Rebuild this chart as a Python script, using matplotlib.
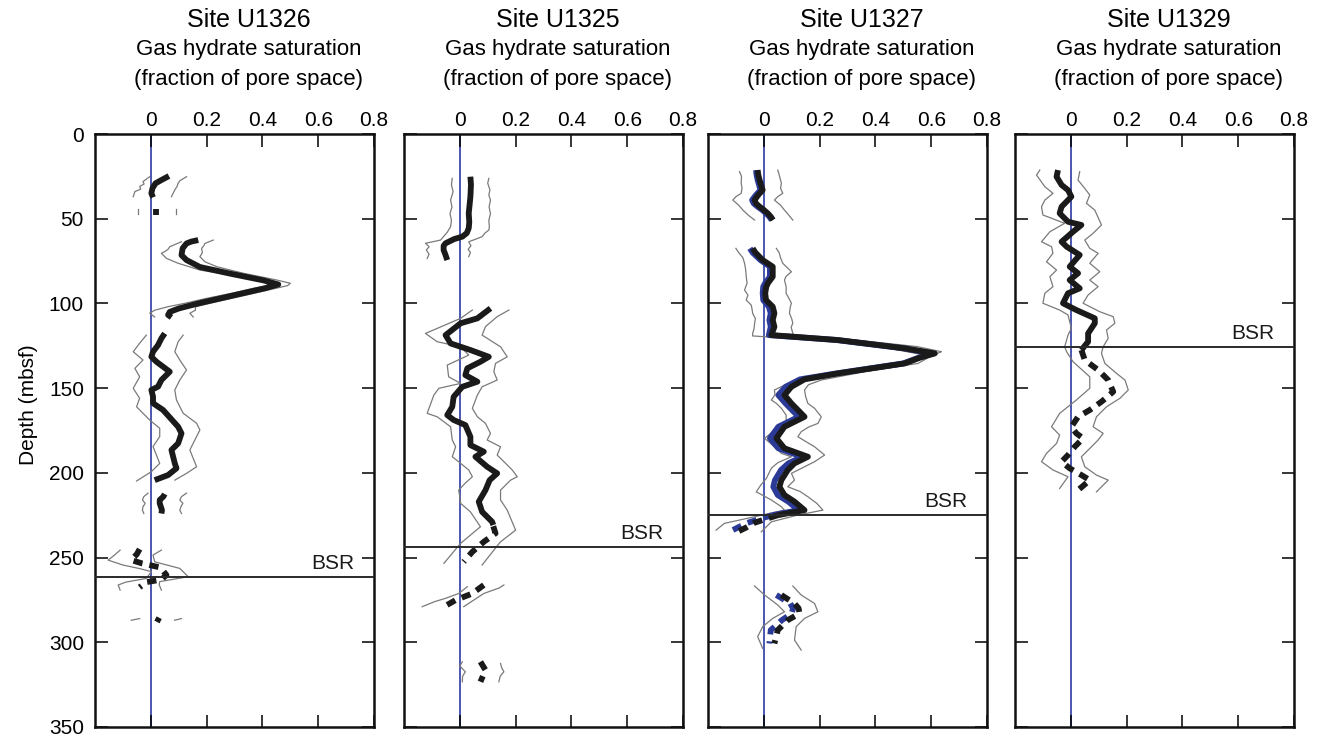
import matplotlib
matplotlib.use("Agg")
import matplotlib.pyplot as plt

plt.rcParams['font.family'] = ['Liberation Sans', 'DejaVu Sans']

sites = ["Site U1326", "Site U1325", "Site U1327", "Site U1329"]
bsr_depths = [261.5, 243.8, 225.0, 126.0]
x_ticks = [0, 0.2, 0.4, 0.6, 0.8]
x_tick_labels = ["0", "0.2", "0.4", "0.6", "0.8"]
y_ticks = [0, 50, 100, 150, 200, 250, 300, 350]

# ---------------- Site U1326 (depth, saturation) ----------------
u1326_mean_solid = [
    [(24.8, 0.065), (27, 0.04), (29.1, 0.017), (32, 0.006), (35, 0.002), (37.4, 0.008)],
    [(44.5, 0.02), (48, 0.02)],
    [(62.6, 0.17), (63.5, 0.145), (64.6, 0.128), (67.5, 0.114), (71.5, 0.11), (74.4, 0.128),
     (78.5, 0.176), (82.4, 0.284), (86.4, 0.404), (88.8, 0.457), (91, 0.41), (94, 0.33),
     (97, 0.25), (100, 0.17), (103, 0.1), (105, 0.068), (106.8, 0.062), (108.2, 0.074)],
    [(117.7, 0.05), (120.6, 0.038), (124.6, 0.026), (128.5, 0.008), (131.5, 0.002), (134.4, 0.02),
     (140.3, 0.068), (145.2, 0.038), (149.1, 0.026), (151.1, 0.002), (155, 0.008), (158.9, 0.008),
     (162.9, 0.044), (172.8, 0.098), (176.7, 0.11), (182.6, 0.098), (186.5, 0.074), (194.4, 0.086),
     (197.3, 0.092), (201.3, 0.062), (204.3, 0.014)],
    [(212.5, 0.05), (214, 0.045), (216, 0.032), (218, 0.032), (220, 0.036), (222, 0.04), (224, 0.038)],
]
u1326_mean_dash = [
    [(245, -0.04), (248, -0.05), (251.5, -0.07), (253.5, -0.03), (255.7, 0.03), (258, 0.045),
     (260.3, 0.056), (263, 0.038), (264.5, -0.016), (267.5, -0.04)],
    [(285.5, 0.03), (288, 0.022)],
]
u1326_low = [
    [(25.2, -0.004), (28.1, -0.028), (29.5, -0.024), (31, -0.04), (32.5, -0.036), (34, -0.057), (37, -0.063)],
    [(44.5, -0.046), (47.5, -0.046)],
    [(63.6, 0.11), (66.5, 0.068), (68, 0.062), (69.4, 0.05), (70.4, 0.038), (73.4, 0.056), (76.3, 0.098),
     (80.3, 0.176), (84.2, 0.32), (87.2, 0.428), (89.5, 0.42), (91, 0.37), (94, 0.29), (97, 0.2),
     (100, 0.12), (102, 0.06), (104, 0.014), (105.8, -0.004), (108, 0.014)],
    [(118.7, -0.016), (123.5, -0.04), (128.5, -0.063), (133.4, -0.028), (138.3, -0.057), (143.3, -0.04),
     (150.1, -0.063), (156, -0.04), (161, -0.051), (168.8, -0.004), (173.7, 0.032), (178.6, 0.032),
     (184.5, 0.008), (194.4, 0.032), (199.3, 0.002), (204.8, -0.051)],
    [(212, -0.01), (214, -0.025), (216, -0.03), (218, -0.02), (220, -0.028), (222, -0.03), (224, -0.025)],
    [(245.6, -0.11), (248.5, -0.13), (251.5, -0.153), (254.4, -0.1), (256.5, -0.04), (258.3, 0.002),
     (262.3, -0.016), (264.5, -0.09), (266.2, -0.117), (269.2, -0.11)],
    [(287, -0.07), (286, -0.04)],
]
u1326_high = [
    [(25.2, 0.128), (27.5, 0.105), (29, 0.098), (31, 0.094), (33, 0.086), (35, 0.08), (37, 0.074)],
    [(44.5, 0.09), (47.5, 0.09)],
    [(62.6, 0.224), (64.6, 0.194), (66, 0.19), (67.5, 0.182), (70, 0.185), (72.4, 0.176), (75.4, 0.194),
     (78.3, 0.236), (82.2, 0.332), (86.2, 0.452), (88.1, 0.5), (89.5, 0.49), (91, 0.45), (94, 0.37),
     (97, 0.29), (100, 0.21), (102, 0.16), (104, 0.16), (105.8, 0.14), (108, 0.152)],
    [(118.7, 0.116), (122.6, 0.098), (128.5, 0.086), (133.4, 0.104), (139.3, 0.128), (145.2, 0.104),
     (151.1, 0.086), (157, 0.092), (164.8, 0.116), (170.7, 0.164), (174.7, 0.176), (178.6, 0.164),
     (186.5, 0.14), (196.4, 0.164), (200.3, 0.128), (204.3, 0.086)],
    [(212, 0.128), (214, 0.11), (216, 0.104), (218, 0.115), (220, 0.108), (222, 0.104), (224, 0.11)],
    [(245.6, 0.038), (248.5, 0.008), (252.5, 0.014), (256.4, 0.104), (261.3, 0.134), (264.2, 0.032),
     (266, 0.03), (269.2, 0.038)],
    [(287, 0.085), (286, 0.11)],
]

# ---------------- Site U1325 ----------------
u1325_mean_solid = [
    [(25.2, 0.038), (30, 0.04), (37, 0.038), (42, 0.035), (46.8, 0.032), (52, 0.034), (55.6, 0.032),
     (58.5, 0.025), (60.6, 0.009), (62, -0.02), (64.5, -0.051), (66, -0.058), (68.5, -0.058),
     (71, -0.052), (74.4, -0.045)],
    [(102.9, 0.11), (108.8, 0.063), (111.7, 0.003), (118.7, -0.051), (123.6, -0.033), (127.5, 0.038),
     (131.5, 0.104), (134.4, 0.074), (138.3, 0.027), (142.3, 0.02), (146.2, 0.063), (149.2, 0.009),
     (155.1, -0.022), (161, -0.027), (165.9, -0.045), (168.8, -0.022), (171.8, 0.02), (178.7, 0.038),
     (183.6, 0.038), (187.5, 0.086), (190.5, 0.056), (196.4, 0.098), (200.3, 0.134), (204.3, 0.107),
     (210.2, 0.092), (217, 0.068), (223, 0.08), (228.9, 0.116), (230.8, 0.12)],
]
u1325_mean_dash = [
    [(231.5, 0.12), (235.7, 0.128), (240.7, 0.086), (246.6, 0.045), (252.5, 0.014)],
    [(266.2, 0.086), (271.2, 0.045), (275.1, -0.015), (279, -0.057)],
    [(311.5, 0.074), (316.4, 0.092), (323.3, 0.074)],
]
u1325_low = [
    [(26.2, -0.027), (30, -0.03), (34, -0.024), (39, -0.033), (43, -0.028), (47, -0.035), (51, -0.03),
     (54.7, -0.033), (58, -0.045), (62.6, -0.069), (64.5, -0.123), (66.5, -0.11), (68.5, -0.12),
     (71, -0.11), (73.4, -0.117)],
    [(103.9, 0.045), (108.8, 0.003), (117.7, -0.123), (122.6, -0.081), (125.6, 0.003), (130.5, 0.032),
     (136.4, -0.045), (143.3, -0.04), (147.2, 0.003), (150.1, -0.075), (154.1, -0.093), (164.9, -0.117),
     (166.9, -0.081), (172.8, -0.033), (180.6, -0.027), (184.6, -0.015), (190.5, -0.027), (194.4, 0.003),
     (198.3, 0.032), (202.3, 0.045), (206, 0.02), (210.2, -0.004), (214, 0.0), (218, 0.003),
     (223, 0.038), (231.8, 0.074), (241.6, 0.003), (253.4, -0.057)],
    [(267.2, 0.027), (271.2, -0.004), (274, -0.05), (276, -0.09), (279, -0.135)],
    [(311.5, 0.009), (314, 0.0), (317.4, 0.02), (320, 0.01), (323.3, 0.009)],
]
u1325_high = [
    [(26.2, 0.104), (29, 0.1), (33, 0.108), (36, 0.104), (39, 0.11), (43, 0.105), (47, 0.11), (51, 0.104),
     (54.7, 0.106), (56.7, 0.104), (58.5, 0.09), (60.6, 0.08), (62.5, 0.05), (63.6, 0.032), (66, 0.04),
     (68, 0.03), (70, 0.038), (72.4, 0.032)],
    [(103.9, 0.176), (107.8, 0.134), (113.7, 0.092), (118.7, 0.08), (125.6, 0.146), (131.5, 0.17),
     (135.4, 0.128), (140.3, 0.122), (145.2, 0.134), (149.2, 0.08), (154.1, 0.063), (161.9, 0.045),
     (166.9, 0.063), (170.8, 0.092), (176.7, 0.11), (180.6, 0.098), (184.6, 0.146), (189.5, 0.134),
     (193.4, 0.158), (198.3, 0.188), (202.3, 0.206), (204.3, 0.182), (210.2, 0.146), (216, 0.146),
     (222, 0.17), (233.8, 0.2), (240.7, 0.146), (245.6, 0.122), (254.4, 0.08)],
    [(266.2, 0.158), (268, 0.14), (271.2, 0.086), (274, 0.06), (279, 0.014)],
    [(312.5, 0.146), (315, 0.15), (317.4, 0.158), (320, 0.145), (323.3, 0.14)],
]

# ---------------- Site U1327 ----------------
u1327_mean_solid = [
    [(21.3, -0.022), (24, -0.02), (27.2, -0.015), (30, -0.01), (33.1, -0.004), (36, -0.02), (39, -0.033),
     (41, -0.028), (42.9, -0.015), (44.8, 0.0), (46.8, 0.014), (48.8, 0.025), (50.8, 0.033)],
    [(67.5, -0.04), (70, -0.03), (74.4, -0.004), (78.3, 0.032), (84.2, 0.032), (88, 0.015), (90.1, 0.009),
     (94, 0.005), (98, 0.008), (101.9, 0.032), (105.8, 0.038), (109.8, 0.032), (113.8, 0.038),
     (118.7, 0.027), (121.6, 0.266), (126.5, 0.505), (129.5, 0.613), (132, 0.56), (135.4, 0.505),
     (141.3, 0.266), (144.8, 0.146), (149.2, 0.099), (154.1, 0.074), (159, 0.099), (166.9, 0.146),
     (172.8, 0.074), (179.6, 0.045), (185.5, 0.074), (190.5, 0.158), (194.4, 0.11), (198.3, 0.086),
     (204.3, 0.063), (208.2, 0.056), (213.1, 0.074), (217, 0.11), (222, 0.146), (225, 0.05)],
]
u1327_mean_dash = [
    [(225, 0.05), (227.5, 0.002), (229.5, -0.034), (232, -0.06), (234.8, -0.094)],
    [(272.1, 0.063), (277.1, 0.11), (280, 0.125), (283, 0.128), (286.9, 0.086), (292.8, 0.05), (300.7, 0.038)],
]
u1327_blue_solid = [
    [(21.3, -0.028), (24, -0.026), (27.2, -0.022), (30, -0.017), (33.1, -0.012), (36, -0.028), (39, -0.042),
     (41, -0.036), (42.9, -0.022), (44.8, -0.006), (46.8, 0.008), (48.8, 0.02), (50.8, 0.028)],
    [(67.5, -0.05), (70, -0.04), (74.4, -0.012), (78.3, 0.022), (84.2, 0.022), (88, 0.005), (90.1, -0.002),
     (94, -0.004), (98, -0.002), (101.9, 0.018), (105.8, 0.025), (109.8, 0.02), (113.8, 0.025),
     (118.7, 0.018), (121.6, 0.26), (126.5, 0.5), (129.5, 0.605), (132, 0.555), (135.4, 0.5),
     (141.3, 0.26), (144.8, 0.13), (149.2, 0.078), (154.1, 0.052), (159, 0.078), (166.9, 0.125),
     (172.8, 0.052), (179.6, 0.022), (185.5, 0.052), (190.5, 0.138), (194.4, 0.088), (198.3, 0.062),
     (204.3, 0.04), (208.2, 0.034), (213.1, 0.05), (217, 0.088), (222, 0.125), (225, 0.03)],
]
u1327_blue_dash = [
    [(225, 0.03), (227.5, -0.02), (229.5, -0.058), (232, -0.09), (234.8, -0.123)],
    [(272.1, 0.045), (277.1, 0.095), (280, 0.105), (283, 0.1), (286.9, 0.065), (292.8, 0.025), (300.7, 0.02)],
]
u1327_low = [
    [(22.2, -0.087), (25, -0.08), (29.1, -0.081), (32, -0.078), (35, -0.081), (37, -0.1), (39, -0.111),
     (42, -0.09), (44.9, -0.075), (48, -0.055), (50.8, -0.033)],
    [(67.5, -0.1), (70, -0.09), (73, -0.075), (76.3, -0.069), (80, -0.065), (84.2, -0.063), (88, -0.06),
     (92.1, -0.069), (95, -0.057), (98, -0.063), (101, -0.045), (103.5, -0.042), (105.8, -0.04),
     (109, -0.03), (111.7, -0.033), (115, -0.035), (117.7, -0.04), (119.2, -0.04), (121.6, 0.2),
     (126.5, 0.45), (130.5, 0.577), (133, 0.52), (136.4, 0.458), (141.3, 0.25), (144.8, 0.13),
     (147, 0.09), (151.1, 0.038), (154, 0.04), (157, 0.027), (159, 0.045), (161.9, 0.063), (165.9, 0.08),
     (169, 0.08), (172.8, 0.074), (176, 0.03), (179.6, 0.003), (184.6, 0.038), (188.5, 0.063),
     (190.5, 0.099), (194, 0.05), (197.3, 0.027), (203.3, 0.009), (207, -0.01), (211.2, -0.027),
     (216, 0.027), (220, 0.063), (222, 0.074), (225.9, -0.033), (229.8, -0.141), (233.8, -0.171)],
    [(266.8, -0.033), (272.1, 0.003), (278, 0.05), (282, 0.074), (285.9, 0.032), (290.8, -0.004),
     (296.7, -0.022), (303.6, -0.004)],
]
u1327_high = [
    [(21.3, 0.05), (24, 0.055), (29.1, 0.063), (32, 0.06), (35, 0.068), (37, 0.05), (39, 0.038), (42, 0.06),
     (44.9, 0.074), (48, 0.09), (50.8, 0.104)],
    [(67.5, 0.045), (70, 0.055), (73, 0.06), (76.3, 0.068), (81.3, 0.099), (84, 0.08), (86.2, 0.074),
     (90, 0.08), (94, 0.08), (97, 0.09), (99.9, 0.099), (102, 0.095), (105.8, 0.092), (109, 0.1),
     (111.7, 0.104), (114, 0.098), (117.7, 0.104), (119, 0.11), (121.6, 0.33), (125.5, 0.55),
     (128.5, 0.637), (131, 0.6), (135.4, 0.553), (140.3, 0.362), (145.2, 0.206), (148, 0.16),
     (151.1, 0.146), (155, 0.15), (159, 0.158), (161.9, 0.182), (166.9, 0.206), (170.8, 0.194),
     (173, 0.16), (175.7, 0.134), (178.7, 0.122), (184.6, 0.182), (189.5, 0.218), (193.4, 0.182),
     (196.4, 0.146), (200.3, 0.099), (204.3, 0.11), (208.2, 0.086), (211, 0.13), (214.1, 0.158),
     (218, 0.19), (222, 0.212), (224.9, 0.122), (228.9, 0.027), (234.8, -0.009)],
    [(266.8, 0.104), (272.1, 0.134), (277.1, 0.182), (282, 0.194), (285.9, 0.146), (290.8, 0.116),
     (298.7, 0.11), (304.6, 0.134)],
]

# ---------------- Site U1329 ----------------
u1329_mean_solid = [
    [(21.3, -0.046), (25.2, -0.051), (30.1, -0.033), (33.1, -0.01), (37, 0.002), (42.9, -0.033),
     (46.8, -0.04), (51.8, -0.01), (53.7, 0.038), (57.7, 0.008), (63.6, -0.033), (66.5, -0.015),
     (71.4, 0.032), (78.3, -0.004), (82.2, 0.026), (86.2, -0.004), (91.1, 0.032), (94, -0.01),
     (99.9, -0.028), (103.9, 0.02), (108.8, 0.086), (111.7, 0.086), (117.7, 0.062), (122.6, 0.062),
     (127.5, 0.038)],
]
u1329_mean_dash = [
    [(127.5, 0.038), (133.4, 0.05), (139.3, 0.098), (145.2, 0.134), (152.1, 0.152), (158, 0.11),
     (162.9, 0.068), (166.9, 0.026), (172.8, 0.002), (176.7, 0.02), (179.6, 0.044), (184.6, 0.014),
     (189.5, -0.01), (193.4, -0.033), (197.3, -0.004), (201.3, 0.038), (204.3, 0.068), (210.2, 0.026)],
]
u1329_low = [
    [(21.3, -0.111), (24.2, -0.123), (31.1, -0.093), (35, -0.064), (39, -0.093), (42.9, -0.105),
     (47.8, -0.1), (52.7, -0.022), (57.7, -0.075), (63.6, -0.105), (66.5, -0.069), (70.4, -0.064),
     (75.4, -0.087), (80.3, -0.051), (84.2, -0.075), (90.1, -0.064), (94, -0.093), (99.9, -0.1),
     (103.9, -0.04), (106.8, -0.01), (114.7, 0.002), (118.7, -0.01), (125.6, -0.022), (128.5, -0.015),
     (134.4, 0.008), (143.3, 0.068), (150.1, 0.068), (157, 0.02), (164.9, -0.04), (172.8, -0.069),
     (177.7, -0.04), (182.6, -0.051), (188.5, -0.087), (193.4, -0.105), (198.3, -0.064), (202.3, -0.01),
     (209.2, -0.04)],
]
u1329_high = [
    [(22.2, 0.032), (27.2, 0.026), (32.1, 0.05), (36, 0.068), (40.9, 0.056), (44.9, 0.086), (53.7, 0.11),
     (58.6, 0.08), (62.6, 0.05), (67.5, 0.068), (70.4, 0.098), (76.3, 0.068), (81.3, 0.104), (86.2, 0.068),
     (90.1, 0.098), (95, 0.062), (99.9, 0.044), (104.9, 0.104), (107.8, 0.152), (111.7, 0.158),
     (115.7, 0.128), (120.6, 0.134), (125.6, 0.116), (129.5, 0.11), (135.4, 0.122), (141.3, 0.164),
     (145.2, 0.194), (151.1, 0.206), (156, 0.176), (161, 0.128), (166.9, 0.092), (172.8, 0.08),
     (176.7, 0.116), (180.6, 0.098), (184.6, 0.074), (190.5, 0.038), (196.4, 0.05), (201.3, 0.092),
     (204.3, 0.134), (211.2, 0.092)],
]

site_means_solid = [u1326_mean_solid, u1325_mean_solid, u1327_mean_solid, u1329_mean_solid]
site_means_dash = [u1326_mean_dash, u1325_mean_dash, u1327_mean_dash, u1329_mean_dash]
site_lows = [u1326_low, u1325_low, u1327_low, u1329_low]
site_highs = [u1326_high, u1325_high, u1327_high, u1329_high]
site_blue_solid = [[], [], u1327_blue_solid, []]
site_blue_dash = [[], [], u1327_blue_dash, []]

BLACK = '#1a1a1a'
GRAY = '#7a7a7a'
BLUE = '#2b3a96'
ZERO = '#3b4aa8'


def split(pairs):
    return [p[1] for p in pairs], [p[0] for p in pairs]


W, H = 1322, 738
fig = plt.figure(figsize=(W / 100, H / 100), dpi=100)
lefts = [95, 404, 708, 1015]
aw = 279
top_px, bot_px = 134, 727

for i in range(4):
    ax = fig.add_axes([lefts[i] / W, (H - bot_px) / H, aw / W, (bot_px - top_px) / H])
    ax.set_xlim(-0.2, 0.8)
    ax.set_ylim(350, 0)
    ax.axvline(0, color=ZERO, lw=1.3, zorder=1)
    for seg in site_lows[i] + site_highs[i]:
        x, d = split(seg)
        ax.plot(x, d, color=GRAY, lw=0.9, zorder=2)
    for seg in site_blue_solid[i]:
        x, d = split(seg)
        ax.plot(x, d, color=BLUE, lw=4.2, solid_capstyle='butt', zorder=3)
    for seg in site_blue_dash[i]:
        x, d = split(seg)
        ax.plot(x, d, color=BLUE, lw=4.2, dashes=(1.6, 1.2), zorder=3)
    for seg in site_means_solid[i]:
        x, d = split(seg)
        ax.plot(x, d, color=BLACK, lw=4.2, solid_capstyle='butt', solid_joinstyle='round', zorder=4)
    for seg in site_means_dash[i]:
        x, d = split(seg)
        ax.plot(x, d, color=BLACK, lw=4.2, dashes=(1.6, 1.2), zorder=4)
    ax.axhline(bsr_depths[i], color='#2a2a2a', lw=1.4, zorder=5)
    ax.text(0.73, bsr_depths[i] - 2.5, "BSR", ha='right', va='bottom', fontsize=15, color='#1a1a1a')

    ax.set_xticks(x_ticks)
    ax.set_xticklabels(x_tick_labels)
    ax.set_yticks(y_ticks)
    ax.tick_params(axis='x', which='both', direction='in', top=True, bottom=True,
                   labeltop=True, labelbottom=False, length=9, width=1.1, labelsize=15, pad=3)
    ax.tick_params(axis='y', which='both', direction='in', left=True, right=True,
                   labelleft=(i == 0), length=9, width=1.1, labelsize=15, pad=8)
    for s in ax.spines.values():
        s.set_linewidth(1.8)
        s.set_color('#111111')

    cx = (lefts[i] + aw * 0.55) / W
    fig.text(cx, 1 - 20 / H, sites[i], ha='center', va='center', fontsize=18)
    fig.text(cx, 1 - 50 / H, "Gas hydrate saturation", ha='center', va='center', fontsize=16)
    fig.text(cx, 1 - 80 / H, "(fraction of pore space)", ha='center', va='center', fontsize=16)

fig.text(28 / W, 1 - 405 / H, "Depth (mbsf)", rotation=90, ha='center', va='center', fontsize=15)

fig.savefig("out.png", dpi=100)
